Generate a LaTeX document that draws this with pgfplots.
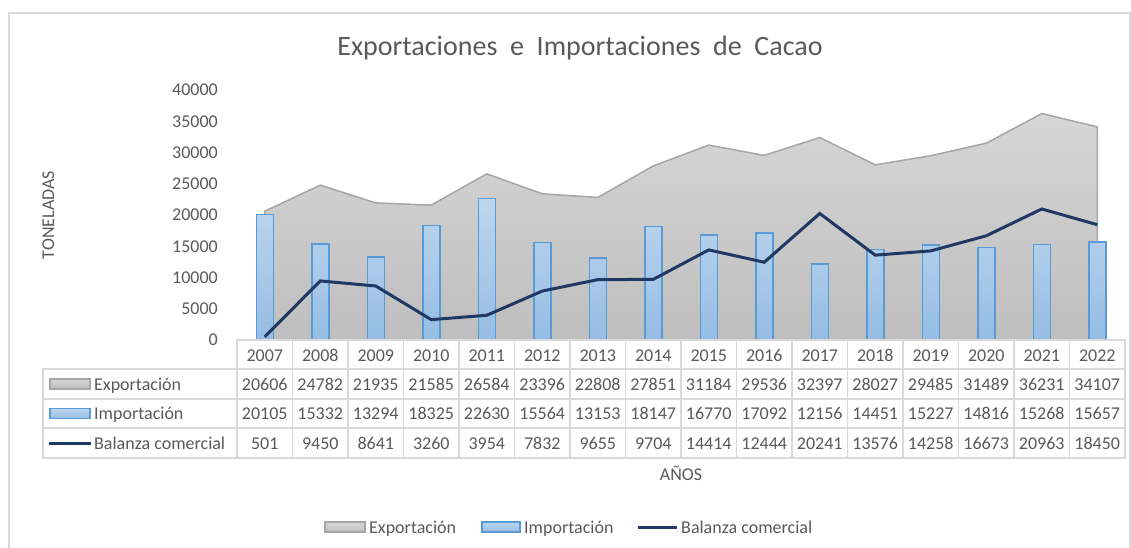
\documentclass[border=0pt]{standalone}
\usepackage{pgfplots}
\pgfplotsset{compat=1.18}
\usepackage{pgfplotstable}
\usepackage{fontspec}
\setmainfont{Carlito}
\definecolor{txt}{HTML}{595959}
\definecolor{gridc}{HTML}{D9D9D9}
\definecolor{areaT}{HTML}{D6D6D6}
\definecolor{areaB}{HTML}{BEBEBE}
\definecolor{areaL}{HTML}{A5A5A5}
\definecolor{barT}{HTML}{BDD7EE}
\definecolor{barB}{HTML}{95BCE4}
\definecolor{barL}{HTML}{5B9BD5}
\definecolor{navy}{HTML}{203864}

\pgfplotstableread{
x year exp imp bal
0 2007 20606 20105 501
1 2008 24782 15332 9450
2 2009 21935 13294 8641
3 2010 21585 18325 3260
4 2011 26584 22630 3954
5 2012 23396 15564 7832
6 2013 22808 13153 9655
7 2014 27851 18147 9704
8 2015 31184 16770 14414
9 2016 29536 17092 12444
10 2017 32397 12156 20241
11 2018 28027 14451 13576
12 2019 29485 15227 14258
13 2020 31489 14816 16673
14 2021 36231 15268 20963
15 2022 34107 15657 18450
}\datatable

\begin{document}
\begin{tikzpicture}[x=1pt,y=1pt,
  lab/.style={text=txt, font=\fontsize{18}{20}\selectfont, inner sep=0pt, text height=12pt, text depth=0pt}]
\useasboundingbox (0,0) rectangle (1131,-547);
\draw[gridc, line width=1.5pt] (9,-560) -- (9,-13) -- (1130,-13) -- (1130,-560);
\node[lab, font=\fontsize{28}{32}\selectfont, text height=18pt] at (580,-46) {Exportaciones\ \ e\ \ Importaciones\ \ de\ \ Cacao};
\begin{axis}[at={(237pt,-340pt)}, anchor=south west,
  scale only axis, width=888pt, height=250pt,
  xmin=-0.5, xmax=15.5, ymin=0, ymax=40000,
  axis line style={draw=none}, xtick=\empty,
  scaled y ticks=false,
  ytick={0,5000,10000,15000,20000,25000,30000,35000,40000},
  yticklabels={0,5000,10000,15000,20000,25000,30000,35000,40000},
  major tick length=0pt,
  yticklabel style={text=txt, font=\fontsize{18}{20}\selectfont, inner sep=0pt, anchor=east, xshift=-19pt},
  clip=false]
\addplot[draw=areaL, line width=1.5pt, top color=areaT, bottom color=areaB] table[x=x,y=exp]{\datatable} \closedcycle;
\addplot[ybar, bar width=17pt, draw=barL, line width=1.5pt, top color=barT, bottom color=barB] table[x=x,y=imp]{\datatable};
\addplot[navy, line width=3pt, mark=none] table[x=x,y=bal]{\datatable};
\end{axis}
% data table
\begin{scope}[gridc, line width=1.5pt]
\draw (237,-340) rectangle (1125,-458);
\draw (43,-369) rectangle (1125,-458);
\draw (43,-399) -- (1125,-399);
\draw (43,-428) -- (1125,-428);
\foreach \k in {1,...,15} \draw ({237+55.5*\k},-340) -- ({237+55.5*\k},-458);
\end{scope}
\foreach \v [count=\i from 0] in {2007,2008,2009,2010,2011,2012,2013,2014,2015,2016,2017,2018,2019,2020,2021,2022}
  \node[lab] at ({264.75+55.5*\i},-355) {\v};
\foreach \v [count=\i from 0] in {20606,24782,21935,21585,26584,23396,22808,27851,31184,29536,32397,28027,29485,31489,36231,34107}
  \node[lab] at ({264.75+55.5*\i},-384) {\v};
\foreach \v [count=\i from 0] in {20105,15332,13294,18325,22630,15564,13153,18147,16770,17092,12156,14451,15227,14816,15268,15657}
  \node[lab] at ({264.75+55.5*\i},-413.5) {\v};
\foreach \v [count=\i from 0] in {501,9450,8641,3260,3954,7832,9655,9704,14414,12444,20241,13576,14258,16673,20963,18450}
  \node[lab] at ({264.75+55.5*\i},-443) {\v};
% table keys
\draw[areaL, line width=1.2pt, top color=areaT, bottom color=areaB] (50,-379) rectangle (90,-389);
\node[lab, anchor=west] at (94,-384) {Exportación};
\draw[barL, line width=1.2pt, top color=barT, bottom color=barB] (50,-408.5) rectangle (90,-418.5);
\node[lab, anchor=west] at (94,-413.5) {Importación};
\draw[navy, line width=3pt] (49,-443) -- (91,-443);
\node[lab, anchor=west] at (94,-443) {Balanza comercial};
% axis titles
\node[lab] at (681,-474) {AÑOS};
\node[lab, rotate=90] at (48,-215) {TONELADAS};
% legend
\draw[areaL, line width=1.2pt, top color=areaT, bottom color=areaB] (325,-522) rectangle (365,-532);
\node[lab, anchor=west] at (369,-527) {Exportación};
\draw[barL, line width=1.2pt, top color=barT, bottom color=barB] (482,-522) rectangle (520,-532);
\node[lab, anchor=west] at (524,-527) {Importación};
\draw[navy, line width=3pt] (638,-527) -- (677,-527);
\node[lab, anchor=west] at (681,-527) {Balanza comercial};
\end{tikzpicture}
\end{document}
